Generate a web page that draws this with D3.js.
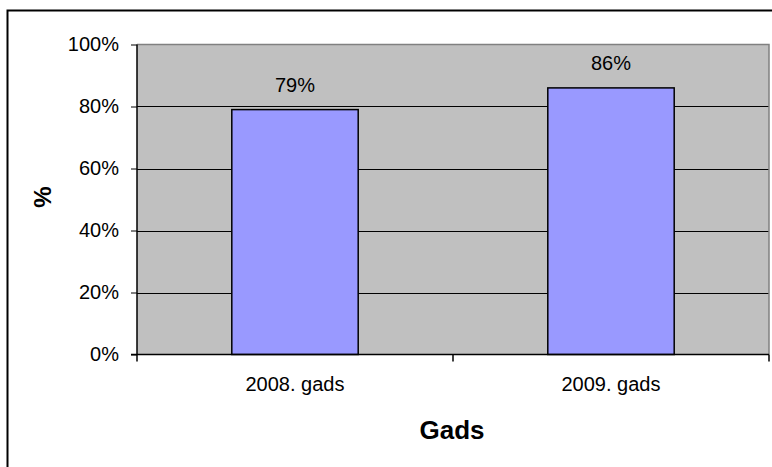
<!DOCTYPE html>
<html>
<head>
<meta charset="utf-8">
<script src="https://cdn.jsdelivr.net/npm/d3@7/dist/d3.min.js"></script>
<style>
  html, body { margin: 0; padding: 0; background: #fff; }
  svg { display: block; }
  text { font-family: "Liberation Sans", Arial, sans-serif; fill: #000; }
</style>
</head>
<body>
<svg id="chart" width="772" height="467"></svg>
<script>
// Survey share by year
const categories = ["2008. gads", "2009. gads"];
const values = [0.79, 0.86];
const yTicks = [0, 0.2, 0.4, 0.6, 0.8, 1.0];
const xTitle = "Gads";
const yTitle = "%";

const svg = d3.select("#chart");
const W = 772, H = 467;
const plot = { left: 137, top: 44.5, right: 769, bottom: 354.5 };

// Outer chart frame
svg.append("rect")
  .attr("x", 7.5).attr("y", 10.5)
  .attr("width", 800).attr("height", 500)
  .attr("fill", "#fff").attr("stroke", "#000").attr("stroke-width", 2);

const x = d3.scaleBand()
  .domain(categories)
  .range([plot.left, plot.right])
  .paddingInner(0.6).paddingOuter(0.3);

const y = d3.scaleLinear().domain([0, 1]).range([plot.bottom, plot.top]);

// Plot background
svg.append("rect")
  .attr("x", plot.left).attr("y", plot.top)
  .attr("width", plot.right - plot.left).attr("height", plot.bottom - plot.top)
  .attr("fill", "#C0C0C0");

// Gridlines
svg.append("g").selectAll("line")
  .data(yTicks.filter(d => d > 0 && d < 1))
  .join("line")
  .attr("x1", plot.left).attr("x2", plot.right)
  .attr("y1", d => Math.round(y(d)) + 0.5).attr("y2", d => Math.round(y(d)) + 0.5)
  .attr("stroke", "#000").attr("stroke-width", 1);

// Plot border (top and right)
svg.append("path")
  .attr("d", `M${plot.left},${plot.top}H${plot.right}V${plot.bottom}`)
  .attr("fill", "none").attr("stroke", "#808080").attr("stroke-width", 1.5);

// Bars
svg.append("g").selectAll("rect")
  .data(values)
  .join("rect")
  .attr("x", (d, i) => x(categories[i]))
  .attr("y", d => y(d))
  .attr("width", x.bandwidth())
  .attr("height", d => y(0) - y(d))
  .attr("fill", "#9999FF")
  .attr("stroke", "#000").attr("stroke-width", 1.5);

// Value labels
svg.append("g").selectAll("text")
  .data(values)
  .join("text")
  .attr("x", (d, i) => x(categories[i]) + x.bandwidth() / 2)
  .attr("y", d => y(d) - 17.5)
  .attr("text-anchor", "middle")
  .style("font-size", "20px")
  .text(d => d3.format(".0%")(d));

// Y axis
const yAxis = d3.axisLeft(y)
  .tickValues(yTicks)
  .tickFormat(d3.format(".0%"))
  .tickSize(6).tickPadding(12);
const gy = svg.append("g").attr("transform", `translate(${plot.left},0)`).call(yAxis);
gy.select(".domain").attr("d", `M0,${plot.top}V${plot.bottom}`).attr("stroke", "#000").attr("stroke-width", 1.5);
gy.selectAll(".tick line").attr("stroke", "#000");
gy.selectAll(".tick text").style("font-size", "20px").style("font-family", "Liberation Sans, Arial, sans-serif").attr("fill", "#000");

// X axis: category boundaries as ticks
const boundaries = [plot.left, (plot.left + plot.right) / 2, plot.right];
const gx = svg.append("g");
gx.append("line")
  .attr("x1", plot.left - 6).attr("x2", plot.right)
  .attr("y1", plot.bottom).attr("y2", plot.bottom)
  .attr("stroke", "#000").attr("stroke-width", 1.5);
gx.selectAll("line.tk").data(boundaries).join("line").attr("class", "tk")
  .attr("x1", d => d).attr("x2", d => d)
  .attr("y1", plot.bottom).attr("y2", plot.bottom + 7)
  .attr("stroke", "#000").attr("stroke-width", 1.5);
gx.selectAll("text").data(categories).join("text")
  .attr("x", d => x(d) + x.bandwidth() / 2)
  .attr("y", 391)
  .attr("text-anchor", "middle")
  .style("font-size", "20px")
  .text(d => d);

// Axis titles
svg.append("text")
  .attr("x", (plot.left + plot.right) / 2 - 1)
  .attr("y", 439)
  .attr("text-anchor", "middle")
  .style("font-size", "26px").style("font-weight", "bold")
  .text(xTitle);

svg.append("text")
  .attr("transform", "translate(51,197) rotate(-90)")
  .attr("text-anchor", "middle")
  .style("font-size", "24px").style("font-weight", "bold")
  .text(yTitle);
</script>
</body>
</html>
